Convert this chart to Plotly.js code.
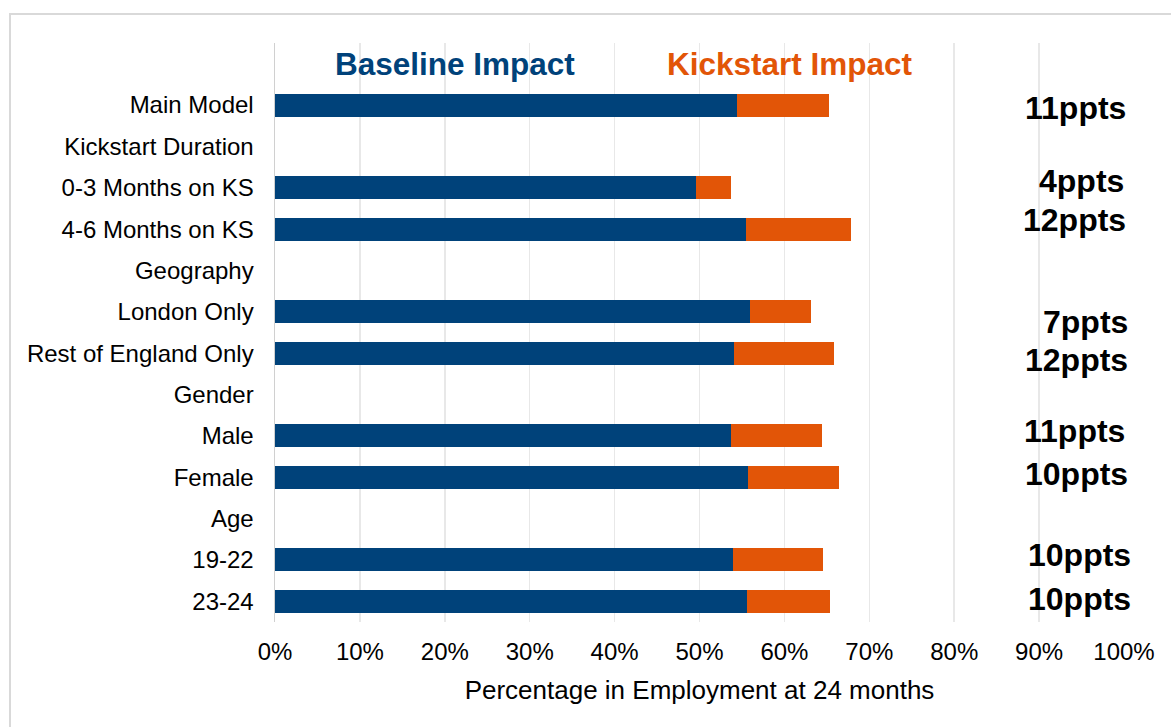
<!DOCTYPE html>
<html>
<head>
<meta charset="utf-8">
<script src="https://cdn.plot.ly/plotly-3.0.1.min.js"></script>
<style>
  html, body { margin: 0; padding: 0; background: #ffffff; }
  #chart { width: 1171px; height: 727px; position: relative; }
  #frame { position: absolute; left: 9px; top: 13px; width: 1300px; height: 900px;
           border: 2px solid #d9d9d9; pointer-events: none; }
</style>
</head>
<body>
<div id="chart"></div>
<div id="frame"></div>
<script>
// ---- data ----
const categories = ['Main Model', 'Kickstart Duration', '0-3 Months on KS', '4-6 Months on KS',
  'Geography', 'London Only', 'Rest of England Only', 'Gender', 'Male', 'Female', 'Age',
  '19-22', '23-24'];
const baselineImpact = [54.4, null, 49.6, 55.5, null, 55.9, 54.1, null, 53.7, 55.7, null, 53.9, 55.6];
const kickstartImpact = [10.9, null, 4.1, 12.4, null, 7.2, 11.8, null, 10.7, 10.7, null, 10.7, 9.8];
const pptsLabels = ['11ppts', null, '4ppts', '12ppts', null, '7ppts', '12ppts', null, '11ppts', '10ppts', null, '10ppts', '10ppts'];
const xTickValues = [0, 10, 20, 30, 40, 50, 60, 70, 80, 90, 100];
const xTickLabels = ['0%', '10%', '20%', '30%', '40%', '50%', '60%', '70%', '80%', '90%', '100%'];
const seriesNames = ['Baseline Impact', 'Kickstart Impact'];
const xTitle = 'Percentage in Employment at 24 months';

// ---- styles ----
const BLUE = '#00427A';
const ORANGE = '#E25507';
const FONT = 'Liberation Sans, Arial, sans-serif';
const labelShift = [[1, -3], null, [-1, 7], [1, 9], null, [3, -10], [3, -7], null, [0, 5], [3, 3], null, [6, 5], [6, 2]];

const traces = [
  { type: 'bar', orientation: 'h', name: seriesNames[0], y: categories, x: baselineImpact,
    marker: { color: BLUE, line: { width: 0 } }, hoverinfo: 'x+y' },
  { type: 'bar', orientation: 'h', name: seriesNames[1], y: categories, x: kickstartImpact,
    marker: { color: ORANGE, line: { width: 0 } }, hoverinfo: 'x+y' }
];

const annotations = [];
categories.forEach((c, i) => {
  if (!pptsLabels[i]) return;
  annotations.push({
    xref: 'x', yref: 'y', x: 100, y: c, xanchor: 'right', yanchor: 'middle',
    xshift: labelShift[i][0] + 3, yshift: labelShift[i][1],
    text: pptsLabels[i], showarrow: false,
    font: { family: FONT, size: 32, color: '#000000', weight: 'bold' }
  });
});
annotations.push({
  xref: 'x', yref: 'paper', x: 21.2, y: 1, yanchor: 'middle', xanchor: 'center', yshift: -21,
  text: '<b>' + seriesNames[0] + '</b>', showarrow: false,
  font: { family: FONT, size: 31.5, color: BLUE }
});
annotations.push({
  xref: 'x', yref: 'paper', x: 60.7, y: 1, yanchor: 'middle', xanchor: 'center', yshift: -21,
  text: '<b>' + seriesNames[1] + '</b>', showarrow: false,
  font: { family: FONT, size: 31.5, color: ORANGE }
});

const layout = {
  width: 1171, height: 727,
  margin: { l: 275, r: 47, t: 43, b: 105 },
  paper_bgcolor: 'rgba(0,0,0,0)', plot_bgcolor: 'rgba(0,0,0,0)',
  barmode: 'stack', bargap: 0.445, showlegend: false,
  font: { family: FONT, size: 24, color: '#000000' },
  xaxis: {
    range: [0, 100], tickmode: 'array', tickvals: xTickValues, ticktext: xTickLabels,
    showgrid: true, gridcolor: '#e8e8e8', gridwidth: 1.5,
    zeroline: false, showline: false, ticks: '', ticklabelstandoff: 13,
    tickfont: { family: FONT, size: 24, color: '#000000' },
    title: { text: xTitle, font: { family: FONT, size: 26, color: '#000000' }, standoff: 16 },
    fixedrange: true
  },
  yaxis: {
    type: 'category', categoryorder: 'array', categoryarray: categories,
    range: [12.5, -1.5], showgrid: false, zeroline: false,
    showline: true, linecolor: '#d0d0d0', linewidth: 1.5,
    ticks: '', ticklabelstandoff: 15,
    tickfont: { family: FONT, size: 24, color: '#000000' },
    fixedrange: true
  },
  annotations: annotations
};

Plotly.newPlot('chart', traces, layout, { displayModeBar: false, staticPlot: true });
</script>
</body>
</html>
